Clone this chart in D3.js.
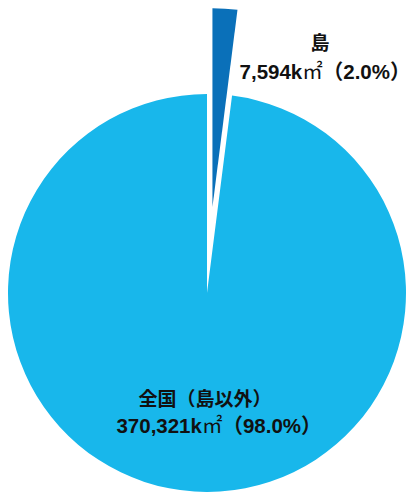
<!DOCTYPE html>
<meta charset="utf-8">
<style>
body { margin: 0; background: #fff; }
.lbl { font-family: "Liberation Sans", "Noto Sans CJK JP", sans-serif; font-weight: bold; fill: #111; }
.l1 { font-size: 19px; }
.l2 { font-size: 20.5px; }
.unit { font-family: "Noto Sans CJK JP", sans-serif; font-weight: normal; }
</style>
<body>
<svg width="411" height="492"></svg>
<script src="https://d3js.org/d3.v7.min.js"></script>
<script>

var names = ["島", "全国（島以外）"],
    areas = [7594, 370321],
    shares = ["2.0%", "98.0%"],
    colors = ["#0a70b9", "#18b7eb"];

var svg = d3.select("svg"),
    cx = 207, cy = 293, radius = 199,
    explode = 86;

var g = svg.append("g").attr("transform", "translate(" + cx + "," + cy + ")");

var pie = d3.pie().sort(null).value(function(d) { return d; });
var arc = d3.arc().innerRadius(0).outerRadius(radius);

var slices = pie(areas);

g.selectAll("path")
  .data(slices)
  .enter().append("path")
    .attr("d", arc)
    .attr("fill", function(d, i) { return colors[i]; })
    .attr("transform", function(d, i) {
      if (i !== 0) return null;
      var a = (d.startAngle + d.endAngle) / 2;
      return "translate(" + (Math.sin(a) * explode) + "," + (-Math.cos(a) * explode) + ")";
    });

// label anchors relative to pie centre: [line1 x, line1 y, line2 x, line2 y]
var labelPos = [[113, -243, 118, -214], [-2, 113, 12, 140]];

var fmt = d3.format(",");

var labels = g.selectAll(".lbl")
  .data(slices)
  .enter().append("text")
    .attr("class", "lbl")
    .attr("text-anchor", "middle");

labels.append("tspan")
    .attr("class", "l1")
    .attr("x", function(d, i) { return labelPos[i][0]; })
    .attr("y", function(d, i) { return labelPos[i][1]; })
    .text(function(d, i) { return names[i]; });

var l2 = labels.append("tspan")
    .attr("class", "l2")
    .attr("x", function(d, i) { return labelPos[i][2]; })
    .attr("y", function(d, i) { return labelPos[i][3]; });
l2.append("tspan").text(function(d, i) { return fmt(areas[i]) + "k"; });
l2.append("tspan").attr("class", "unit").text("㎡");
l2.append("tspan").text(function(d, i) { return "（" + shares[i] + "）"; });

</script>
</body>
